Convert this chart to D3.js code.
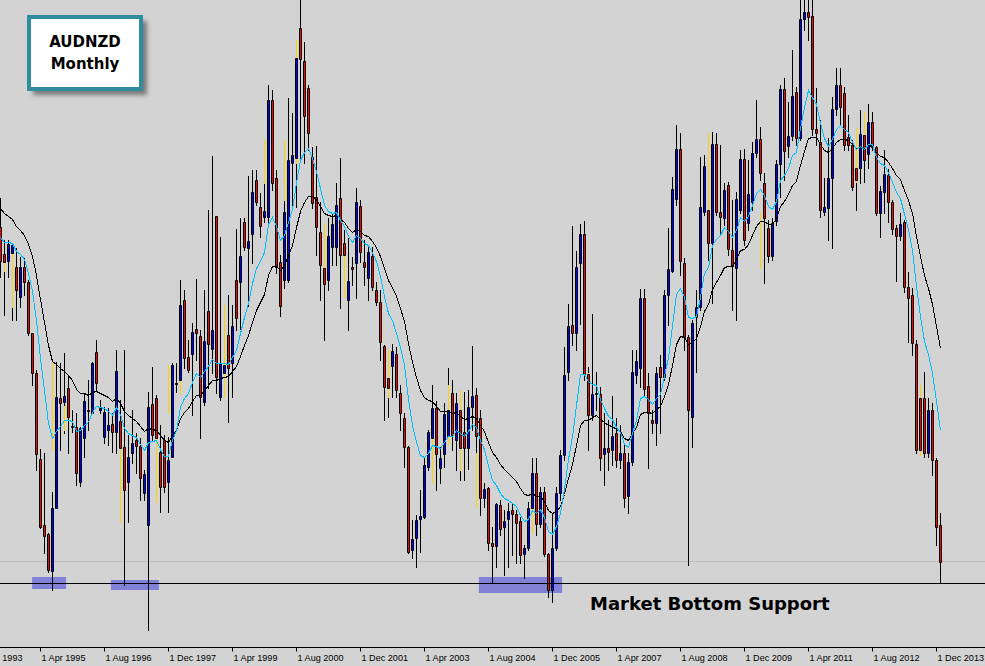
<!DOCTYPE html>
<html><head><meta charset="utf-8">
<script src="https://cdn.jsdelivr.net/npm/d3@7"></script>
<style>
html,body{margin:0;padding:0;background:#d3d3d3;overflow:hidden}
svg{display:block}
</style></head><body>
<svg id="chart" width="985" height="666"></svg>
<script>
// ---- DATA (AUDNZD monthly, first candle = Jun 1994) ----
const symbolName = "AUDNZD";
const timeframe = "Monthly";
const startMonth = "1994-06";
const open = [
1.2365,1.2230,1.2195,1.2235,1.2165,1.2015,1.2165,1.2090,1.1835,1.1635,
1.1205,1.0875,1.0830,1.0645,1.0960,1.1510,1.1490,1.1560,1.1370,1.1365,
1.1090,1.1310,1.1450,1.1435,1.1740,1.1450,1.1315,1.1350,1.1380,1.1340,
1.1395,1.1265,1.1090,1.1235,1.1300,1.1270,1.1035,1.0875,1.1480,1.1510,
1.1240,1.1300,1.1090,1.1215,1.1580,1.1600,1.2000,1.1715,1.1730,1.1855,
1.1820,1.1490,1.1945,1.1755,1.2420,1.1515,1.1635,1.1825,1.1685,1.2100,
1.2090,1.2390,1.2260,1.2330,1.2600,1.2465,1.2415,1.2415,1.3000,1.2610,
1.2190,1.2100,1.2100,1.2685,1.2710,1.3360,1.3195,1.3060,1.2715,1.2515,
1.2340,1.2160,1.2100,1.2265,1.2265,1.2510,1.2285,1.2000,1.2165,1.2185,
1.2470,1.2190,1.2110,1.2220,1.2050,1.1990,1.1770,1.1610,1.1670,1.1730,
1.1535,1.1410,1.1265,1.0750,1.0810,1.0905,1.0915,1.1165,1.1310,1.1460,
1.1160,1.1230,1.1320,1.1535,1.1300,1.1450,1.1340,1.1260,1.1465,1.1525,
1.1410,1.1010,1.1060,1.0785,1.0770,1.0975,1.0865,1.0905,1.0950,1.0930,
1.0895,1.0730,1.0760,1.0960,1.1135,1.0880,1.1040,1.0730,1.0550,1.0760,
1.1035,1.1225,1.1640,1.1875,1.1835,1.2185,1.2330,1.1630,1.1425,1.1530,
1.1530,1.1230,1.1260,1.1250,1.1335,1.1200,1.1235,1.1020,1.1190,1.1625,
1.1660,1.2010,1.1570,1.1400,1.1385,1.1665,1.1615,1.2025,1.2145,1.2505,
1.2755,1.2185,1.1815,1.1415,1.1915,1.1965,1.2440,1.2450,1.2285,1.2780,
1.2440,1.2410,1.2575,1.2250,1.2160,1.2450,1.2705,1.2385,1.2490,1.2735,
1.2805,1.2585,1.2360,1.2220,1.2395,1.2680,1.3055,1.2770,1.2820,1.3040,
1.2810,1.3405,1.3440,1.3420,1.2855,1.2790,1.2440,1.2460,1.2610,1.2955,
1.3075,1.3035,1.2815,1.2775,1.2660,1.2660,1.2825,1.2730,1.2890,1.2765,
1.2435,1.2540,1.2625,1.2490,1.2360,1.2320,1.2390,1.2065,1.2025,1.1780,
1.1510,1.1510,1.1235,1.1450,1.1200,1.0875];
const high = [
1.2510,1.2300,1.2300,1.2285,1.2260,1.2215,1.2210,1.2100,1.1835,1.1650,
1.1255,1.1235,1.0835,1.1040,1.1690,1.1685,1.1735,1.1625,1.1450,1.1435,
1.1365,1.1535,1.1600,1.1690,1.1800,1.1500,1.1465,1.1460,1.1435,1.1750,
1.1500,1.1750,1.1325,1.1450,1.1335,1.1310,1.1150,1.1540,1.1665,1.1525,
1.1375,1.1325,1.1315,1.1685,1.1685,1.2100,1.2050,1.1800,1.1885,1.2105,
1.1850,1.2050,1.2450,1.2720,1.2420,1.2315,1.1850,1.2025,1.1975,1.2355,
1.2410,1.2410,1.2620,1.2650,1.2650,1.2535,1.2750,1.3075,1.3050,1.2650,
1.2225,1.2550,1.3010,1.2935,1.3300,1.3525,1.3290,1.3075,1.2765,1.2770,
1.2490,1.2300,1.2410,1.2435,1.2585,1.2710,1.2350,1.2310,1.2215,1.2560,
1.2500,1.2300,1.2275,1.2265,1.2090,1.2050,1.1775,1.1700,1.1780,1.1765,
1.1575,1.1435,1.1270,1.0900,1.0925,1.1050,1.1210,1.1350,1.1575,1.1495,
1.1265,1.1485,1.1660,1.1600,1.1535,1.1550,1.1540,1.1550,1.1770,1.1560,
1.1450,1.1085,1.1065,1.0865,1.0985,1.1000,1.0950,1.0985,1.0985,1.0950,
1.0915,1.0775,1.0990,1.1210,1.1210,1.1065,1.1065,1.0735,1.0935,1.1065,
1.1250,1.1765,1.1980,1.2370,1.2245,1.2380,1.2395,1.1665,1.1930,1.1640,
1.1565,1.1435,1.1400,1.1520,1.1410,1.1375,1.1275,1.1235,1.1750,1.1750,
1.2055,1.2055,1.1635,1.1450,1.1665,1.1725,1.2050,1.2360,1.2615,1.2875,
1.2835,1.2210,1.1825,1.1900,1.2050,1.2715,1.2725,1.2750,1.2840,1.2835,
1.2775,1.2585,1.2590,1.2500,1.2540,1.2750,1.2755,1.2700,1.2790,1.3000,
1.2865,1.2635,1.2400,1.2410,1.2700,1.3075,1.3110,1.2990,1.3250,1.3065,
1.3525,1.3525,1.3525,1.3525,1.3060,1.2900,1.2610,1.2810,1.3015,1.3160,
1.3160,1.3065,1.2925,1.2800,1.2860,1.2950,1.2940,1.2980,1.2940,1.2770,
1.2570,1.2750,1.2655,1.2500,1.2375,1.2435,1.2400,1.2140,1.2060,1.1800,
1.1575,1.1640,1.1510,1.1485,1.1210,1.0935];
const low = [
1.2115,1.1925,1.2115,1.1900,1.1900,1.1965,1.2025,1.1825,1.1575,1.1150,
1.0860,1.0735,1.0640,1.0550,1.0960,1.1250,1.1335,1.1235,1.1340,1.1075,
1.1070,1.1215,1.1350,1.1435,1.1550,1.1435,1.1285,1.1275,1.1240,1.1235,
1.1200,1.0575,1.0890,1.1185,1.1135,1.1000,1.1000,1.0350,1.1300,1.1300,
1.0940,1.1040,1.0940,1.1215,1.1540,1.1550,1.1660,1.1640,1.1425,1.1700,
1.1310,1.1475,1.1560,1.1635,1.1535,1.1500,1.1520,1.1390,1.1515,1.1850,
1.1855,1.2250,1.1970,1.2185,1.2475,1.2315,1.2390,1.2390,1.2550,1.2135,
1.1920,1.2060,1.2090,1.2465,1.2465,1.2700,1.2685,1.2750,1.2460,1.2225,
1.2000,1.1800,1.2050,1.2175,1.2175,1.1960,1.2015,1.1850,1.2075,1.2010,
1.2190,1.2075,1.2000,1.2050,1.1975,1.1700,1.1400,1.1415,1.1515,1.1515,
1.1350,1.1165,1.0735,1.0710,1.0665,1.0740,1.0910,1.1150,1.1300,1.1050,
1.1085,1.1165,1.1275,1.1250,1.1150,1.1100,1.1100,1.1155,1.1350,1.1050,
1.0925,1.0965,1.0750,1.0585,1.0665,1.0825,1.0625,1.0665,1.0725,1.0685,
1.0685,1.0610,1.0750,1.0900,1.0825,1.0865,1.0720,1.0515,1.0490,1.0750,
1.1000,1.1200,1.1600,1.1775,1.1750,1.1880,1.1600,1.1250,1.1400,1.1450,
1.1150,1.1075,1.1150,1.1175,1.1165,1.1160,1.0965,1.0935,1.1175,1.1585,
1.1565,1.1525,1.1160,1.1335,1.1275,1.1335,1.1600,1.1875,1.2140,1.2475,
1.2125,1.1750,1.0675,1.1265,1.1640,1.1950,1.2425,1.2200,1.1985,1.2425,
1.2335,1.2375,1.2225,1.1950,1.1900,1.2435,1.2275,1.2350,1.2450,1.2715,
1.2600,1.2085,1.2190,1.2200,1.2375,1.2515,1.2600,1.2715,1.2800,1.2775,
1.2800,1.3350,1.3300,1.2825,1.2775,1.2415,1.2425,1.2300,1.2260,1.2925,
1.2875,1.2750,1.2750,1.2550,1.2450,1.2585,1.2590,1.2660,1.2750,1.2425,
1.2315,1.2435,1.2390,1.2330,1.2095,1.2300,1.2040,1.1790,1.1725,1.1235,
1.1225,1.1215,1.1215,1.1125,1.0775,1.0585];
const close = [
1.2195,1.2190,1.2280,1.2275,1.2050,1.2165,1.2090,1.1835,1.1635,1.1230,
1.0865,1.0820,1.0650,1.0960,1.1515,1.1485,1.1520,1.1415,1.1365,1.1135,
1.1360,1.1495,1.1445,1.1685,1.1585,1.1460,1.1440,1.1375,1.1340,1.1645,
1.1260,1.1050,1.1215,1.1285,1.1270,1.1110,1.1130,1.1465,1.1325,1.1310,
1.1065,1.1065,1.1200,1.1675,1.1585,1.1975,1.1710,1.1650,1.1840,1.1835,
1.1515,1.1795,1.1780,1.1850,1.1615,1.1685,1.1675,1.1660,1.1870,1.1910,
1.2220,1.2265,1.2295,1.2540,1.2490,1.2370,1.2445,1.3000,1.2585,1.2165,
1.1970,1.2440,1.2700,1.2725,1.3210,1.3205,1.2920,1.2835,1.2485,1.2365,
1.2175,1.2080,1.2320,1.2380,1.2475,1.2225,1.2225,1.2095,1.2155,1.2490,
1.2240,1.2165,1.2240,1.2065,1.1990,1.1790,1.1565,1.1560,1.1745,1.1550,
1.1435,1.1265,1.0740,1.0805,1.0900,1.0920,1.1175,1.1340,1.1460,1.1230,
1.1210,1.1430,1.1450,1.1325,1.1485,1.1260,1.1260,1.1465,1.1520,1.1320,
1.1010,1.1055,1.0785,1.0770,1.0980,1.0855,1.0895,1.0945,1.0930,1.0885,
1.0725,1.0760,1.0960,1.1135,1.0880,1.1040,1.0730,1.0550,1.0760,1.1035,
1.1225,1.1625,1.1870,1.1835,1.2165,1.2330,1.1630,1.1425,1.1530,1.1535,
1.1210,1.1260,1.1240,1.1320,1.1200,1.1235,1.1010,1.1190,1.1640,1.1695,
1.2010,1.1555,1.1435,1.1385,1.1635,1.1615,1.2025,1.2155,1.2555,1.2755,
1.2195,1.1815,1.1450,1.1885,1.1965,1.2465,1.2670,1.2285,1.2780,1.2440,
1.2415,1.2550,1.2255,1.2170,1.2505,1.2705,1.2300,1.2530,1.2735,1.2805,
1.2635,1.2410,1.2220,1.2385,1.2680,1.3055,1.2745,1.2820,1.3020,1.2810,
1.3405,1.3440,1.3415,1.2855,1.2835,1.2450,1.2465,1.2610,1.2955,1.3075,
1.2965,1.2775,1.2775,1.2565,1.2600,1.2830,1.2700,1.2890,1.2765,1.2435,
1.2545,1.2630,1.2490,1.2355,1.2320,1.2380,1.2065,1.2010,1.1785,1.1250,
1.1250,1.1235,1.1450,1.1200,1.0865,1.0690];
// thin yellow marks overlaid on some bars
const yellowIdx  = [1,3,13,16,30,39,42,45,56,66,71,74,81,86,97,108,112,115,119,133,147,177,190,214,216,230];
const yellowHigh = [1.2230,1.2235,1.1690,1.1470,1.1260,1.1400,1.1675,1.1900,1.1975,1.2800,1.2800,1.3300,1.2385,1.2225,1.1750,1.1310,1.1575,1.1550,1.1235,1.1135,1.1635,1.2835,1.2435,1.2860,1.2940,1.1575];
const yellowLow  = [1.2145,1.1965,1.1250,1.1350,1.0890,1.0990,1.1435,1.1535,1.1515,1.2585,1.2500,1.2685,1.2165,1.2015,1.1515,1.1085,1.1275,1.1150,1.0965,1.0835,1.1435,1.2415,1.2160,1.2590,1.2700,1.1225];
// moving averages: fast EMA (cyan) and slow EMA (black), values at the first bar
const fastPeriod = 10, slowPeriod = 20;
const fastStart = 1.2315, slowStart = 1.2460;
// support zones (bar index ranges) and levels
const zoneFrom   = [7.9, 27.6, 119.6];
const zoneTo     = [16.4, 39.6, 140.4];
const zoneTop    = [1.0615, 1.0600, 1.0615];
const zoneBottom = [1.0555, 1.0550, 1.0535];
const supportLevel = 1.0585;
const bidLevel = 1.0695;
const supportLabel = "Market Bottom Support";
// first tick (1 Dec 1993) sits left of the window; only its year is visible
const tickDates  = ["1 Dec 1993","1 Apr 1995","1 Aug 1996","1 Dec 1997","1 Apr 1999","1 Aug 2000","1 Dec 2001","1 Apr 2003","1 Aug 2004","1 Dec 2005","1 Apr 2007","1 Aug 2008","1 Dec 2009","1 Apr 2011","1 Aug 2012","1 Dec 2013"];
const tickLabels = ["1993","1 Apr 1995","1 Aug 1996","1 Dec 1997","1 Apr 1999","1 Aug 2000","1 Dec 2001","1 Apr 2003","1 Aug 2004","1 Dec 2005","1 Apr 2007","1 Aug 2008","1 Dec 2009","1 Apr 2011","1 Aug 2012","1 Dec 2013"];

// ---- CHART ----
const W = 985, H = 666, plotH = 647;
const svg = d3.select("#chart");
const start = d3.timeParse("%Y-%m")(startMonth);
const x = d3.scaleLinear().domain([0, 246]).range([0.5, 984.5]);
const y = d3.scaleLinear().domain([1.0265, 1.35]).range([plotH, 0]);

const defs = svg.append("defs");
defs.append("clipPath").attr("id","plotClip").append("rect").attr("x",0).attr("y",0).attr("width",W).attr("height",plotH);
const blur = defs.append("filter").attr("id","shadowBlur").attr("x","-20%").attr("y","-20%").attr("width","140%").attr("height","140%");
blur.append("feGaussianBlur").attr("stdDeviation",2);

svg.append("rect").attr("width",W).attr("height",H).attr("fill","#d3d3d3");

const plot = svg.append("g").attr("clip-path","url(#plotClip)");

// bid line
plot.append("line").attr("x1",0).attr("x2",W)
  .attr("y1",Math.round(y(bidLevel))+0.5).attr("y2",Math.round(y(bidLevel))+0.5)
  .attr("stroke","#bcbcbc").attr("stroke-width",1);

// zones
plot.selectAll("rect.zone").data(zoneFrom).join("rect").attr("class","zone")
  .attr("x",(d)=>x(d)).attr("width",(d,i)=>x(zoneTo[i])-x(d))
  .attr("y",(d,i)=>y(zoneTop[i])).attr("height",(d,i)=>y(zoneBottom[i])-y(zoneTop[i]))
  .attr("fill","#8181d7");

const idx = d3.range(close.length);
const ry = v => Math.round(y(v));

// wicks
plot.selectAll("line.wick").data(idx).join("line").attr("class","wick")
  .attr("x1",i=>x(i)).attr("x2",i=>x(i))
  .attr("y1",i=>ry(high[i])).attr("y2",i=>ry(low[i])+1)
  .attr("stroke","#000").attr("stroke-width",1);

// yellow marks
plot.selectAll("line.ym").data(yellowIdx).join("line").attr("class","ym")
  .attr("x1",d=>x(d)).attr("x2",d=>x(d))
  .attr("y1",(d,i)=>ry(yellowHigh[i])).attr("y2",(d,i)=>ry(yellowLow[i])+1)
  .attr("stroke","#ffd200").attr("stroke-width",1);

// bodies
plot.selectAll("path.body").data(idx).join("path").attr("class","body")
  .attr("d",i=>{
    const t = ry(Math.max(open[i],close[i]))+0.5, b = ry(Math.min(open[i],close[i]))+0.5;
    const l = x(i)-1, r = x(i)+1;
    return `M${l},${t}H${r}V${b}H${l}Z`;
  })
  .attr("fill",i=> close[i]>open[i] ? "#0000ff" : (close[i]<open[i] ? "#ff0000" : "#000"))
  .attr("stroke","#000").attr("stroke-width",1);

// EMAs
function ema(values, period, seed){
  const a = 2/(period+1); const out=[seed];
  for(let i=1;i<values.length;i++) out.push(out[i-1] + a*(values[i]-out[i-1]));
  return out;
}
const fast = ema(close, fastPeriod, fastStart);
const slow = ema(close, slowPeriod, slowStart);
const line = d3.line().x((d,i)=>x(i)).y(d=>Math.round(y(d))+0.5);
plot.append("path").datum(slow).attr("d",line).attr("fill","none").attr("stroke","#000").attr("stroke-width",1).attr("shape-rendering","crispEdges");
plot.append("path").datum(fast).attr("d",line).attr("fill","none").attr("stroke","#00bfff").attr("stroke-width",1).attr("shape-rendering","crispEdges");

// support line
plot.append("line").attr("x1",0).attr("x2",W)
  .attr("y1",Math.round(y(supportLevel))+0.5).attr("y2",Math.round(y(supportLevel))+0.5)
  .attr("stroke","#000").attr("stroke-width",1);

svg.append("text").attr("x",590).attr("y",610).text(supportLabel)
  .attr("font-family","DejaVu Sans, Verdana, sans-serif").attr("font-weight","bold").attr("font-size",18).attr("fill","#000");

// axis
const tickIdx = tickDates.map(s => d3.timeMonth.count(start, d3.timeParse("%d %b %Y")(s)));
const axis = d3.axisBottom(x).tickValues(tickIdx).tickFormat((d,i)=>tickLabels[i]).tickSize(4).tickSizeOuter(0).tickPadding(3).offset(0);
const ag = svg.append("g").attr("transform",`translate(0,${plotH+0.5})`).call(axis);
ag.select(".domain").attr("stroke","#000").attr("d",`M0,0H${W}`);
ag.selectAll(".tick line").attr("stroke","#000");
ag.selectAll(".tick text")
  .attr("font-family","Liberation Sans, Arial, sans-serif").attr("font-size",9.1).attr("fill","#000")
  .attr("text-anchor",(d,i)=> i===0 ? "end" : "start")
  .attr("x",(d,i)=> i===0 ? (22.5 - x(d)) : 1);

// title box
svg.append("rect").attr("x",33).attr("y",21).attr("width",114).attr("height",74).attr("fill","#7a7a7a").attr("filter","url(#shadowBlur)");
svg.append("rect").attr("x",29).attr("y",17).attr("width",112).attr("height",72).attr("fill","#fff").attr("stroke","#318ca0").attr("stroke-width",4);
svg.append("text").attr("x",85).attr("y",47).attr("text-anchor","middle").text(symbolName)
  .attr("font-family","DejaVu Sans, Verdana, sans-serif").attr("font-weight","bold").attr("font-size",15);
svg.append("text").attr("x",85).attr("y",69).attr("text-anchor","middle").text(timeframe)
  .attr("font-family","DejaVu Sans, Verdana, sans-serif").attr("font-weight","bold").attr("font-size",15);
</script>
</body></html>
